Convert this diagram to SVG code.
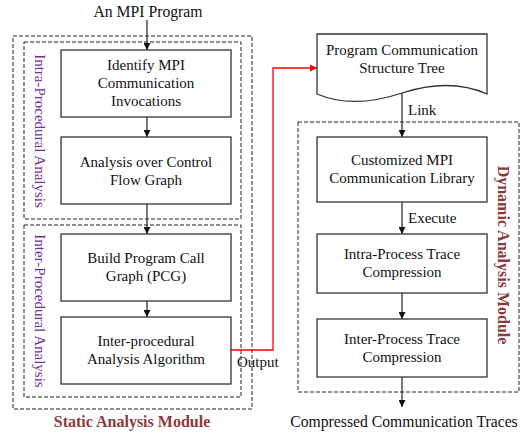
<svg xmlns="http://www.w3.org/2000/svg" width="524" height="436" viewBox="0 0 524 436" font-family="'Liberation Serif', 'DejaVu Serif', serif">
<defs>
<style>
text{font-family:'Liberation Serif','Times New Roman','DejaVu Serif',serif;font-size:15px;fill:#111}
.c{text-anchor:middle}
.big{font-size:15.7px}
.box{fill:#fff;stroke:#333;stroke-width:1.3}
.dash{fill:none;stroke:#222;stroke-width:1;stroke-dasharray:4,2}
.edge{fill:none;stroke:#333;stroke-width:1.3}
.red{fill:none;stroke:#f00;stroke-width:1.3}
.purple{fill:#7030A0}
.mod{fill:#8B3A3A;font-weight:bold;font-size:16px}
</style>
<marker id="ah" viewBox="0 0 10 10" refX="10" refY="5" markerWidth="7" markerHeight="7" markerUnits="userSpaceOnUse" orient="auto"><path d="M0,0L10,5L0,10Z" fill="#111"/></marker>
<marker id="ahr" viewBox="0 0 10 10" refX="10" refY="5" markerWidth="7" markerHeight="7" markerUnits="userSpaceOnUse" orient="auto"><path d="M0,0L10,5L0,10Z" fill="#f00"/></marker>
</defs>
<rect width="524" height="436" fill="#fff"/>
<g id="containers">
<rect class="dash" x="13" y="36" width="239" height="373"/>
<rect class="dash" x="24" y="42" width="217" height="177"/>
<rect class="dash" x="24" y="225" width="217" height="172"/>
<rect class="dash" x="298" y="122" width="221" height="270"/>
<text class="purple c" transform="translate(40,131) rotate(90)" dy="5">Intra-Procedural Analysis</text>
<text class="purple c" transform="translate(40,311) rotate(90)" dy="5">Inter-Procedural Analysis</text>
<text class="mod c" transform="translate(503,255) rotate(90)" dy="5">Dynamic Analysis Module</text>
<text class="mod c" x="132" y="427">Static Analysis Module</text>
</g>
<g id="connectors">
<line class="edge" x1="147" y1="20" x2="147" y2="50" marker-end="url(#ah)"/>
<line class="edge" x1="147" y1="117" x2="147" y2="137" marker-end="url(#ah)"/>
<line class="edge" x1="147" y1="204" x2="147" y2="234" marker-end="url(#ah)"/>
<line class="edge" x1="147" y1="301" x2="147" y2="317" marker-end="url(#ah)"/>
<polyline class="red" points="231,350 273,350 273,68 317,68" marker-end="url(#ahr)"/>
<line class="edge" x1="402" y1="93" x2="402" y2="137" marker-end="url(#ah)"/>
<line class="edge" x1="402" y1="202" x2="402" y2="234" marker-end="url(#ah)"/>
<line class="edge" x1="402" y1="293" x2="402" y2="319" marker-end="url(#ah)"/>
<line class="edge" x1="402" y1="377" x2="402" y2="407" marker-end="url(#ah)"/>
<text x="237" y="367">Output</text>
<text x="408" y="115">Link</text>
<text x="408" y="223">Execute</text>
</g>
<g id="start"><text class="c big" x="148" y="17">An MPI Program</text></g>
<g id="n1"><rect class="box" x="61" y="50" width="170" height="67"/>
<text class="c" x="146" y="70">Identify MPI</text><text class="c" x="146" y="88">Communication</text><text class="c" x="146" y="106">Invocations</text></g>
<g id="n2"><rect class="box" x="61" y="137" width="170" height="67"/>
<text class="c" x="146" y="167">Analysis over Control</text><text class="c" x="146" y="185">Flow Graph</text></g>
<g id="n3"><rect class="box" x="61" y="234" width="170" height="67"/>
<text class="c" x="146" y="263">Build Program Call</text><text class="c" x="146" y="281">Graph (PCG)</text></g>
<g id="n4"><rect class="box" x="61" y="317" width="170" height="67"/>
<text class="c" x="146" y="346">Inter-procedural</text><text class="c" x="146" y="364">Analysis Algorithm</text></g>
<g id="n5"><path class="box" d="M317,34H487V94C460,82 430,84 402,93C375,102 345,106 317,94Z"/>
<text class="c" x="402" y="55">Program Communication</text><text class="c" x="402" y="73">Structure Tree</text></g>
<g id="n6"><rect class="box" x="317" y="137" width="170" height="65"/>
<text class="c" x="402" y="165">Customized MPI</text><text class="c" x="402" y="183">Communication Library</text></g>
<g id="n7"><rect class="box" x="317" y="234" width="170" height="59"/>
<text class="c" x="402" y="259">Intra-Process Trace</text><text class="c" x="402" y="277">Compression</text></g>
<g id="n8"><rect class="box" x="317" y="319" width="170" height="58"/>
<text class="c" x="402" y="344">Inter-Process Trace</text><text class="c" x="402" y="362">Compression</text></g>
<g id="end"><text class="c big" x="404" y="427">Compressed Communication Traces</text></g>
</svg>
